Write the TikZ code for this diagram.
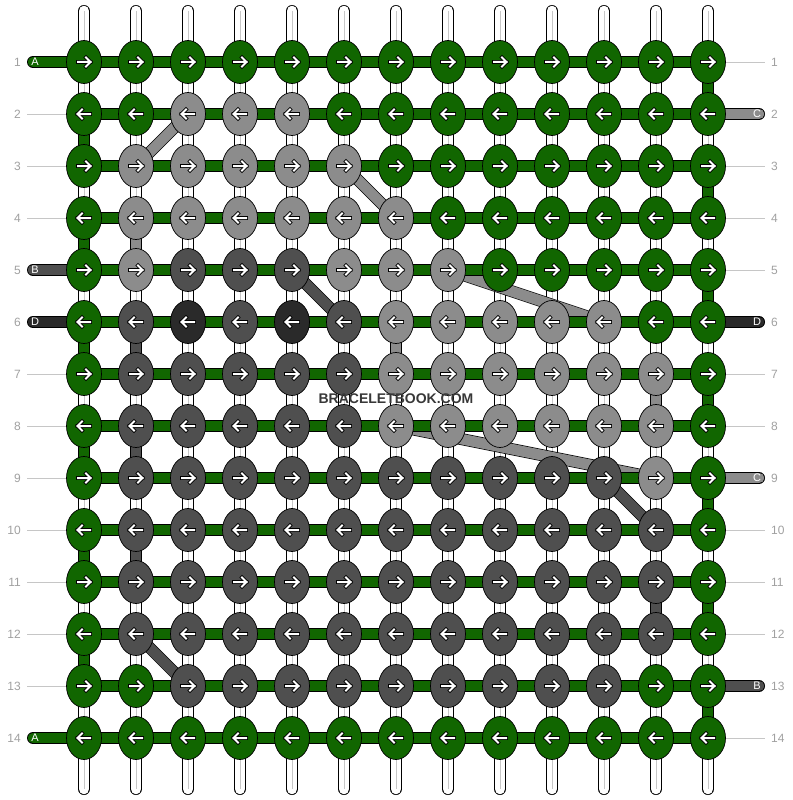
\documentclass[tikz,border=0pt]{standalone}
\usepackage{fontspec}
\setmainfont{Liberation Sans}
\usetikzlibrary{shapes.geometric,backgrounds}
\pgfdeclarelayer{background}
\pgfsetlayers{background,main}
\definecolor{kG}{HTML}{116600}
\definecolor{kL}{HTML}{8C8C8C}
\definecolor{kM}{HTML}{4F4F4F}
\definecolor{kD}{HTML}{2A2A2A}
\definecolor{numgray}{HTML}{A0A0A0}
\definecolor{guidegray}{HTML}{C6C6C6}
\tikzset{
  knot/.style={ellipse, draw=black, line width=0.7pt, minimum width=35pt, minimum height=43pt, inner sep=0pt},
  band/.style={draw=black, line width=0.7pt, double distance=10.6pt, double=#1},
  warp/.style={band=white, line cap=round},
  warpline/.style={black!22, line width=0.7pt},
  stub/.style={band=#1, line cap=round},
  arrowback/.style={black, line width=3.6pt, line cap=rect, line join=miter},
  arrowfront/.style={white, line width=2pt, line cap=rect, line join=miter},
  rownum/.style={text=numgray, font=\fontsize{12}{12}\selectfont, inner sep=0pt},
  stubtxt/.style={text=white, font=\fontsize{11}{11}\selectfont, inner sep=0pt},
  guide/.style={guidegray, line width=0.8pt}
}
\begin{document}
\begin{tikzpicture}[x=1pt, y=-1pt]
\useasboundingbox (0,0) rectangle (792,800);

% knots, one row of colours per line
\foreach \row [count=\r] in {
  {G,G,G,G,G,G,G,G,G,G,G,G,G},
  {G,G,L,L,L,G,G,G,G,G,G,G,G},
  {G,L,L,L,L,L,G,G,G,G,G,G,G},
  {G,L,L,L,L,L,L,G,G,G,G,G,G},
  {G,L,M,M,M,L,L,L,G,G,G,G,G},
  {G,M,D,M,D,M,L,L,L,L,L,G,G},
  {G,M,M,M,M,M,L,L,L,L,L,L,G},
  {G,M,M,M,M,M,L,L,L,L,L,L,G},
  {G,M,M,M,M,M,M,M,M,M,M,L,G},
  {G,M,M,M,M,M,M,M,M,M,M,M,G},
  {G,M,M,M,M,M,M,M,M,M,M,M,G},
  {G,M,M,M,M,M,M,M,M,M,M,M,G},
  {G,G,M,M,M,M,M,M,M,M,M,G,G},
  {G,G,G,G,G,G,G,G,G,G,G,G,G}}{
  \foreach \col [count=\c] in \row {
    \node[knot, fill=k\col] (k-\r-\c) at ({32+52*\c},{10+52*\r}) {};
    \pgfmathsetmacro\dir{2*mod(\r,2)-1}
    \begin{scope}[shift={(k-\r-\c.center)}, xscale=\dir]
      \draw[arrowback] (-6,0) -- (6.5,0) (2,-4.5) -- (6.5,0) -- (2,4.5);
      \draw[arrowfront] (-6,0) -- (6.5,0) (2,-4.5) -- (6.5,0) -- (2,4.5);
    \end{scope}
  }
}

% row numbers and edge points
\foreach \r in {1,...,14}{
  \node[rownum, anchor=east] (nl-\r) at (21,{10+52*\r}) {\r};
  \node[rownum, anchor=west] (nr-\r) at (771,{10+52*\r}) {\r};
  \coordinate (el-\r) at (33,{10+52*\r});
  \coordinate (er-\r) at (759,{10+52*\r});
  \coordinate (gl-\r) at (27,{10+52*\r});
  \coordinate (gr-\r) at (765,{10+52*\r});
}
\foreach \r in {2,3,4,7,8,9,10,11,12,13}
  \draw[guide] (gl-\r) -- (k-\r-1.west);
\foreach \r in {1,3,4,5,7,8,10,11,12,14}
  \draw[guide] (k-\r-13.east) -- (gr-\r);

\begin{pgfonlayer}{background}
  % warp strings
  \foreach \c in {1,...,13}{
    \coordinate (top-\c) at ({32+52*\c},11);
    \coordinate (bot-\c) at ({32+52*\c},789);
    \draw[warp] (top-\c) -- (bot-\c);
    \draw[warpline] (top-\c) -- (bot-\c);
  }
  % diagonals
  \foreach \ra/\ca/\rb/\cb/\clr in {2/3/3/2/kL, 3/6/4/7/kL, 5/5/6/6/kM, 5/8/6/11/kL,
      8/7/9/12/kL, 9/11/10/12/kM, 12/2/13/3/kM}
    \draw[band=\clr] (k-\ra-\ca.center) -- (k-\rb-\cb.center);
  % vertical segments
  \foreach \c/\r/\clr in {1/2/kG, 1/4/kG, 1/6/kG, 1/8/kG, 1/10/kG, 1/12/kG,
      13/1/kG, 13/3/kG, 13/5/kG, 13/7/kG, 13/9/kG, 13/11/kG, 13/13/kG,
      2/4/kL, 2/6/kM, 7/6/kL, 12/7/kL, 2/8/kM, 2/10/kM, 12/11/kM}{
    \pgfmathtruncatemacro\rn{\r+1}
    \draw[band=\clr] (k-\r-\c.center) -- (k-\rn-\c.center);
  }
  % rows
  \foreach \r in {1,...,14}
    \draw[band=kG] (k-\r-1.center) -- (k-\r-13.center);
  % loose ends
  \foreach \r/\clr in {1/kG, 5/kM, 6/kD, 14/kG}
    \draw[stub=\clr] (el-\r) -- (k-\r-1.center);
  \foreach \r/\clr in {2/kL, 6/kD, 9/kL, 13/kM}
    \draw[stub=\clr] (k-\r-13.center) -- (er-\r);
\end{pgfonlayer}

\foreach \r/\lab in {1/A, 5/B, 6/D, 14/A}
  \node[stubtxt] (sl-\r) at (35,{10+52*\r}) {\lab};
\foreach \r/\lab in {2/C, 6/D, 9/C, 13/B}
  \node[stubtxt] (sr-\r) at (757,{10+52*\r}) {\lab};

\node[font=\bfseries\fontsize{14}{14}\selectfont, text=black!78] (mark) at (396,399) {BRACELETBOOK.COM};

\end{tikzpicture}
\end{document}
